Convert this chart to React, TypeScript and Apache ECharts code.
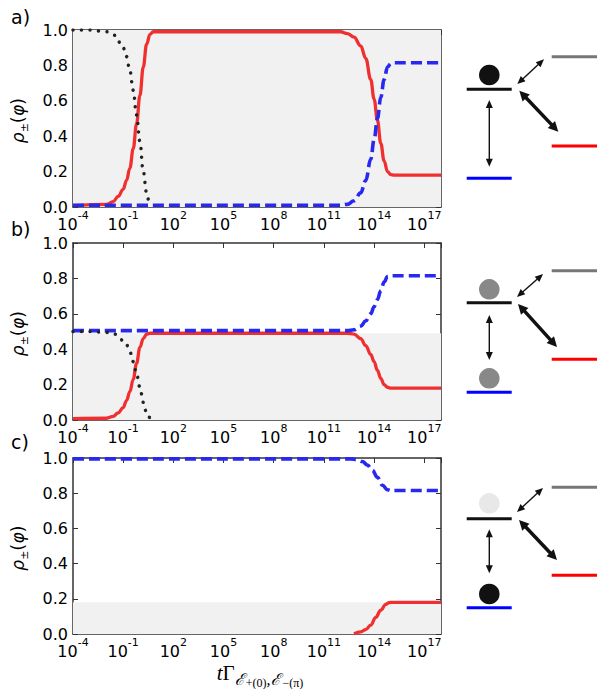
import React, { useEffect, useRef } from "react";
import * as echarts from "echarts";

// ---- data (x values are log10 of tΓ) ----
const xTickExponents = [-4, -1, 2, 5, 8, 11, 14, 17];
const yTickValues = [0, 0.2, 0.4, 0.6, 0.8, 1.0];
const panelLabels = ["a)", "b)", "c)"];
const shadeLevels = [1.0, 0.49, 0.18];

// black dotted curves
const dotX = [-4, -3, -2, -1.5, -1.0, -0.8, -0.6, -0.4, -0.2, 0, 0.2, 0.4, 0.55, 0.7];
const dotAY = [1.0, 1.0, 0.99, 0.97, 0.9, 0.85, 0.77, 0.66, 0.52, 0.37, 0.2, 0.08, 0.03, 0.005];
const dotBY = [0.5, 0.5, 0.495, 0.485, 0.45, 0.425, 0.385, 0.33, 0.26, 0.185, 0.1, 0.04, 0.015, 0.003];

// red solid curves
const redAX = [-4, -2, -1.6, -1.3, -1.0, -0.8, -0.6, -0.4, -0.2, 0, 0.2, 0.4, 0.6, 0.8, 1.0, 12.0, 12.4, 12.8, 13.2, 13.5, 13.8, 14.0, 14.2, 14.4, 14.6, 14.8, 15.0, 15.2, 18];
const redAY = [0.008, 0.015, 0.03, 0.06, 0.1, 0.15, 0.22, 0.33, 0.47, 0.63, 0.79, 0.92, 0.975, 0.99, 0.99, 0.99, 0.98, 0.96, 0.91, 0.84, 0.72, 0.61, 0.49, 0.36, 0.26, 0.2, 0.183, 0.18, 0.18];
const redBX = [-4, -2, -1.6, -1.3, -1.0, -0.8, -0.6, -0.4, -0.2, 0, 0.2, 0.4, 0.6, 1.0, 12.4, 12.8, 13.2, 13.5, 13.8, 14.0, 14.2, 14.4, 14.6, 14.8, 15.0, 18];
const redBY = [0.008, 0.01, 0.02, 0.04, 0.07, 0.11, 0.16, 0.23, 0.32, 0.41, 0.46, 0.485, 0.49, 0.49, 0.49, 0.485, 0.46, 0.42, 0.37, 0.33, 0.28, 0.235, 0.2, 0.185, 0.18, 0.18];
const redCX = [12.8, 13.2, 13.5, 13.8, 14.1, 14.4, 14.7, 14.9, 15.1, 18];
const redCY = [0.002, 0.012, 0.025, 0.05, 0.095, 0.135, 0.168, 0.178, 0.18, 0.18];

// blue dashed curves
const blueAX = [-4, 12.0, 12.4, 12.8, 13.2, 13.5, 13.8, 14.0, 14.2, 14.4, 14.6, 14.8, 15.0, 15.2, 18];
const blueAY = [0.01, 0.01, 0.015, 0.035, 0.08, 0.15, 0.27, 0.38, 0.5, 0.62, 0.72, 0.79, 0.81, 0.815, 0.815];
const blueBX = [-4, 12.4, 12.8, 13.2, 13.5, 13.8, 14.0, 14.2, 14.4, 14.6, 14.8, 15.0, 18];
const blueBY = [0.505, 0.505, 0.51, 0.53, 0.56, 0.6, 0.64, 0.68, 0.73, 0.78, 0.81, 0.815, 0.815];
const blueCX = [-4, 12.6, 13.0, 13.3, 13.6, 13.9, 14.2, 14.5, 14.8, 15.0, 18];
const blueCY = [0.995, 0.995, 0.99, 0.98, 0.96, 0.93, 0.89, 0.845, 0.82, 0.815, 0.815];

const panels = [
  { dot: [dotX, dotAY], red: [redAX, redAY], blue: [blueAX, blueAY] },
  { dot: [dotX, dotBY], red: [redBX, redBY], blue: [blueBX, blueBY] },
  { dot: null, red: [redCX, redCY], blue: [blueCX, blueCY] },
];

// ---- layout ----
const GRID_LEFT = 73;
const GRID_WIDTH = 368;
const gridTops = [30, 243, 458];
const gridHeights = [177, 177, 176];
const FONT = "DejaVu Sans";

const RED = "#f03030";
const BLUE = "#2828f0";

const diagrams = [
  { gray: 56.7, black: 89.3, red: 146, blue: 178.3, top: { y: 75, c: "#111" }, bottom: null,
    v: [100, 166.7], thin: [517.3, 84, 544, 59.3], thick: [519.3, 90.7, 558.3, 131.7] },
  { gray: 270.7, black: 302.7, red: 359.3, blue: 392.3, top: { y: 289.3, c: "#888" }, bottom: { y: 378.3, c: "#888" },
    v: [315, 360], thin: [517, 297, 543, 274], thick: [518, 304, 557, 347] },
  { gray: 487.3, black: 518.7, red: 575.3, blue: 607.7, top: { y: 503.3, c: "#e8e8e8" }, bottom: { y: 594, c: "#111" },
    v: [529.3, 573.3], thin: [517, 512, 543, 488], thick: [519, 520, 557, 560] },
];

function arrow(x1: number, y1: number, x2: number, y2: number, lw: number, hl: number, hw: number, color: string) {
  const dx = x2 - x1, dy = y2 - y1;
  const L = Math.hypot(dx, dy);
  const ux = dx / L, uy = dy / L;
  const px = -uy, py = ux;
  const head = (tx: number, ty: number, dx2: number, dy2: number) => ({
    type: "polygon",
    silent: true,
    shape: {
      points: [
        [tx, ty],
        [tx - dx2 * hl + px * hw / 2, ty - dy2 * hl + py * hw / 2],
        [tx - dx2 * hl - px * hw / 2, ty - dy2 * hl - py * hw / 2],
      ],
    },
    style: { fill: color },
  });
  return [
    {
      type: "line",
      silent: true,
      shape: { x1: x1 + ux * hl * 0.7, y1: y1 + uy * hl * 0.7, x2: x2 - ux * hl * 0.7, y2: y2 - uy * hl * 0.7 },
      style: { stroke: color, lineWidth: lw },
    },
    head(x2, y2, ux, uy),
    head(x1, y1, -ux, -uy),
  ];
}

function hline(x1: number, x2: number, y: number, color: string) {
  return { type: "line", silent: true, shape: { x1, y1: y, x2, y2: y }, style: { stroke: color, lineWidth: 3 } };
}

function buildDiagram(d: any) {
  const els: any[] = [];
  const cx = 489.3;
  els.push(hline(551.7, 597, d.gray, "#777777"));
  els.push(hline(551.7, 597, d.red, "#ff0000"));
  els.push(hline(466.7, 511.7, d.black, "#111111"));
  els.push(hline(466.7, 511.7, d.blue, "#0000ff"));
  els.push({ type: "circle", silent: true, shape: { cx, cy: d.top.y, r: 10.3 }, style: { fill: d.top.c } });
  if (d.bottom) els.push({ type: "circle", silent: true, shape: { cx, cy: d.bottom.y, r: 10.3 }, style: { fill: d.bottom.c } });
  els.push(...arrow(cx, d.v[0], cx, d.v[1], 1.4, 8, 7, "#111"));
  els.push(...arrow(d.thin[0], d.thin[1], d.thin[2], d.thin[3], 1.4, 8, 7, "#111"));
  els.push(...arrow(d.thick[0], d.thick[1], d.thick[2], d.thick[3], 3.5, 10, 10, "#111"));
  return els;
}

function xLabelFormatter(v: number) {
  if (xTickExponents.indexOf(v) < 0) return "";
  return `{b|10}{s|${v}}`;
}

export default function App() {
  const ref = useRef<HTMLDivElement>(null);
  useEffect(() => {
    if (!ref.current) return;
    const chart = echarts.init(ref.current, undefined, { renderer: "svg" });

    const grids: any[] = [];
    const xAxes: any[] = [];
    const yAxes: any[] = [];
    const series: any[] = [];
    const axisLineStyle = { color: "#333", width: 1.5 };

    for (let gi = 0; gi < 3; gi++) {
      grids.push({ left: GRID_LEFT, width: GRID_WIDTH, top: gridTops[gi], height: gridHeights[gi], containLabel: false });
      const xBase = {
        type: "value", gridIndex: gi, min: -4, max: 18, interval: 3,
        axisLine: { show: true, onZero: false, lineStyle: axisLineStyle },
        axisTick: { show: true, inside: true, length: 5, lineStyle: { color: "#333", width: 1 } },
        splitLine: { show: false },
      };
      xAxes.push({
        ...xBase, position: "bottom",
        axisLabel: {
          show: true, margin: 3, showMaxLabel: false, formatter: xLabelFormatter,
          rich: {
            b: { fontFamily: FONT, fontSize: 16, color: "#000", lineHeight: 22, verticalAlign: "bottom" },
            s: { fontFamily: FONT, fontSize: 11, color: "#000", lineHeight: 12, verticalAlign: "top" },
          },
        },
      });
      xAxes.push({ ...xBase, position: "top", axisLabel: { show: false } });
      const yBase = {
        type: "value", gridIndex: gi, min: 0, max: 1, interval: 0.2,
        axisLine: { show: true, onZero: false, lineStyle: axisLineStyle },
        axisTick: { show: true, inside: true, length: 5, lineStyle: { color: "#333", width: 1 } },
        splitLine: { show: false },
      };
      yAxes.push({
        ...yBase, position: "left",
        axisLabel: {
          show: true, margin: 5, fontFamily: FONT, fontSize: 16, color: "#000",
          formatter: (v: number) => (yTickValues.some((t) => Math.abs(t - v) < 1e-6) ? v.toFixed(1) : ""),
        },
      });
      yAxes.push({ ...yBase, position: "right", axisLabel: { show: false } });

      // shaded region
      series.push({
        type: "line", xAxisIndex: gi * 2, yAxisIndex: gi * 2, silent: true, z: 1,
        data: [[-4, shadeLevels[gi]], [18, shadeLevels[gi]]],
        showSymbol: false, symbol: "none",
        lineStyle: { width: 0, opacity: 0 },
        areaStyle: { color: "#f0f1f0", opacity: 1, origin: "start" },
      });
      const p = panels[gi];
      const mk = (xy: any, style: any, z: number) => ({
        type: "line", xAxisIndex: gi * 2, yAxisIndex: gi * 2, silent: true, z,
        data: xy[0].map((x: number, i: number) => [x, xy[1][i]]),
        showSymbol: false, symbol: "none", smooth: 0.4, smoothMonotone: "x",
        lineStyle: style,
      });
      series.push(mk(p.red, { color: RED, width: 3.3 }, 3));
      series.push(mk(p.blue, { color: BLUE, width: 3.6, type: [11, 5] }, 4));
      if (p.dot) series.push(mk(p.dot, { color: "#222", width: 3.5, type: [0.01, 8.5], cap: "round" }, 5));
    }

    const graphics: any[] = [];
    const labelYs = [17, 229, 442];
    panelLabels.forEach((t, i) => {
      graphics.push({
        type: "text", silent: true, x: 11, y: labelYs[i],
        style: { text: t, fontFamily: FONT, fontSize: 19, fill: "#000", align: "left", verticalAlign: "middle" },
      });
      graphics.push({
        type: "text", silent: true, x: 20, y: gridTops[i] + gridHeights[i] / 2 + 2, rotation: Math.PI / 2,
        style: {
          text: "{r|ρ}{s|±}{p|(}{r|φ}{p|)}",
          align: "center", verticalAlign: "middle", fill: "#000",
          rich: {
            r: { fontFamily: FONT, fontStyle: "italic", fontSize: 17, lineHeight: 20, verticalAlign: "bottom", padding: [0, 0, 4, 0], fill: "#000" },
            s: { fontFamily: FONT, fontSize: 11, lineHeight: 12, verticalAlign: "bottom", padding: [0, 0, 0, 0], fill: "#000" },
            p: { fontFamily: FONT, fontSize: 18, lineHeight: 20, verticalAlign: "bottom", padding: [0, 0, 4, 0], fill: "#000" },
          },
        },
      });
    });
    const SERIF = "'Liberation Serif', 'DejaVu Serif', serif";
    graphics.push({
      type: "text", silent: true, x: 260, y: 680,
      style: {
        text: "{t|t}{g|Γ}{e|ℰ}{f|+(0)}{e|,}{e|ℰ}{f|−(π)}",
        align: "center", verticalAlign: "middle", fill: "#000",
        rich: {
          t: { fontFamily: SERIF, fontStyle: "italic", fontSize: 21, lineHeight: 18, verticalAlign: "bottom", padding: [0, 0, 6, 0], fill: "#000" },
          g: { fontFamily: SERIF, fontSize: 21, lineHeight: 18, verticalAlign: "bottom", padding: [0, 0, 6, 0], fill: "#000" },
          e: { fontFamily: SERIF, fontStyle: "italic", fontSize: 16, lineHeight: 14, verticalAlign: "bottom", padding: [0, 1, 2, 0], fill: "#000" },
          f: { fontFamily: SERIF, fontSize: 12, lineHeight: 11, verticalAlign: "bottom", padding: [0, 0, 0, 0], fill: "#000" },
        },
      },
    });
    diagrams.forEach((d) => graphics.push(...buildDiagram(d)));

    chart.setOption({
      animation: false,
      backgroundColor: "#ffffff",
      grid: grids,
      xAxis: xAxes,
      yAxis: yAxes,
      series,
      graphic: graphics,
    });
    return () => chart.dispose();
  }, []);
  return <div ref={ref} style={{ position: "fixed", left: 0, top: 0, width: 597, height: 689 }} />;
}
